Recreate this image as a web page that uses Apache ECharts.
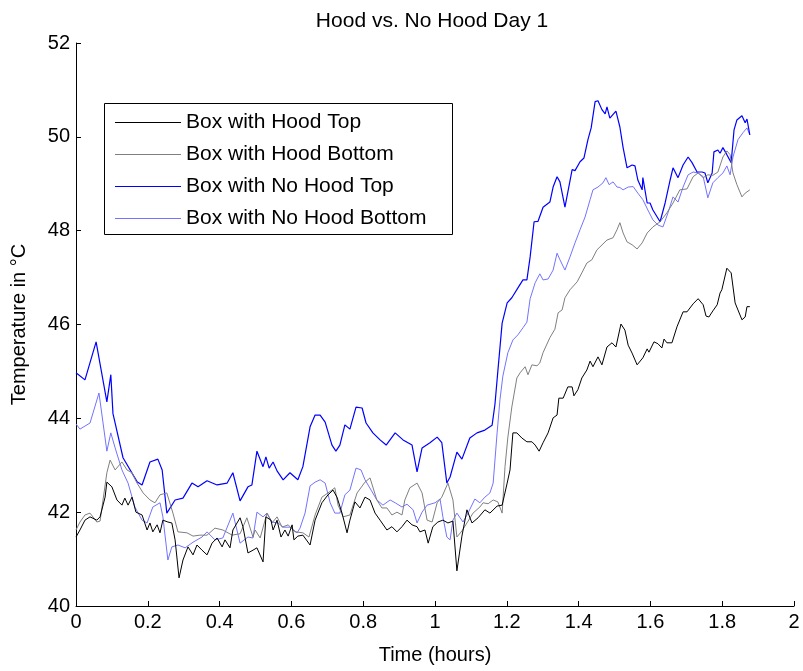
<!DOCTYPE html>
<html>
<head>
<meta charset="utf-8">
<title>Hood vs. No Hood Day 1</title>
<script src="https://cdn.jsdelivr.net/npm/echarts@6/dist/echarts.min.js"></script>
<style>
  html, body { margin: 0; padding: 0; background: #fff; }
  #chart { width: 803px; height: 671px; }
</style>
</head>
<body>
<div id="chart"></div>
<script>
// Temperature logs, time in hours, temperature in °C
const seriesNames = ['Box with Hood Top', 'Box with Hood Bottom', 'Box with No Hood Top', 'Box with No Hood Bottom'];
const xTicks = [0, 0.2, 0.4, 0.6, 0.8, 1, 1.2, 1.4, 1.6, 1.8, 2];
const yTicks = [40, 42, 44, 46, 48, 50, 52];

const hoodTopT = [0,0.011,0.025,0.039,0.058,0.067,0.081,0.086,0.100,0.114,0.128,0.136,0.145,0.156,0.167,0.184,0.198,0.206,0.214,0.226,0.234,0.242,0.256,0.267,0.276,0.287,0.298,0.312,0.326,0.337,0.351,0.365,0.379,0.393,0.407,0.415,0.429,0.437,0.457,0.465,0.479,0.493,0.504,0.521,0.529,0.543,0.549,0.560,0.571,0.582,0.591,0.602,0.607,0.618,0.632,0.652,0.666,0.685,0.702,0.716,0.727,0.741,0.755,0.763,0.777,0.791,0.805,0.819,0.833,0.847,0.866,0.880,0.894,0.908,0.922,0.936,0.950,0.958,0.972,0.981,0.994,1.008,1.022,1.036,1.050,1.061,1.075,1.089,1.103,1.120,1.139,1.153,1.173,1.187,1.201,1.209,1.217,1.228,1.242,1.256,1.270,1.279,1.290,1.301,1.315,1.329,1.340,1.345,1.357,1.370,1.382,1.387,1.398,1.409,1.423,1.432,1.440,1.454,1.465,1.479,1.493,1.504,1.518,1.529,1.538,1.549,1.554,1.563,1.568,1.579,1.591,1.596,1.610,1.621,1.632,1.638,1.646,1.660,1.674,1.691,1.702,1.719,1.733,1.747,1.755,1.763,1.774,1.786,1.794,1.799,1.813,1.825,1.836,1.855,1.864,1.869,1.877];
const hoodTopV = [41.47,41.62,41.83,41.90,41.83,41.90,42.32,42.64,42.54,42.26,42.15,42.30,42.15,42.32,42.00,41.94,41.62,41.77,41.58,41.73,41.56,41.83,41.79,41.77,41.41,40.60,40.98,41.26,41.09,41.30,41.19,41.09,41.34,41.45,41.26,41.41,41.24,41.62,41.88,41.69,41.13,41.19,41.24,40.94,41.90,41.83,41.62,41.83,41.47,41.62,41.49,41.73,41.41,41.49,41.51,41.30,41.83,42.20,42.37,42.47,42.32,41.98,41.56,41.83,42.22,42.09,42.32,42.26,41.98,41.83,41.62,41.69,41.58,41.69,41.83,41.73,41.69,41.58,41.62,41.34,41.69,41.79,41.83,41.77,41.81,40.75,41.49,42.05,41.77,41.88,42.05,41.98,42.13,42.15,42.62,42.90,43.69,43.69,43.58,43.50,43.50,43.43,43.30,43.48,43.69,44.01,44.07,44.43,44.43,44.67,44.67,44.48,44.61,44.86,45.03,45.22,45.10,45.31,45.14,45.52,45.61,45.52,46.01,45.88,45.56,45.39,45.41,45.14,45.10,45.29,45.48,45.41,45.63,45.59,45.50,45.69,45.61,45.61,45.95,46.27,46.27,46.44,46.55,46.42,46.18,46.16,46.29,46.42,46.67,46.74,47.20,47.10,46.46,46.10,46.16,46.38,46.38];

const hoodBottomT = [0,0.011,0.025,0.039,0.058,0.067,0.086,0.095,0.109,0.128,0.142,0.156,0.170,0.187,0.206,0.220,0.234,0.253,0.270,0.284,0.309,0.326,0.345,0.365,0.387,0.409,0.435,0.457,0.476,0.493,0.499,0.513,0.532,0.546,0.560,0.574,0.591,0.610,0.632,0.649,0.666,0.685,0.702,0.721,0.730,0.744,0.763,0.783,0.805,0.819,0.838,0.852,0.866,0.880,0.894,0.908,0.916,0.930,0.950,0.964,0.978,0.992,1.006,1.019,1.036,1.050,1.061,1.075,1.089,1.106,1.125,1.134,1.148,1.162,1.175,1.187,1.195,1.203,1.214,1.228,1.237,1.251,1.259,1.270,1.284,1.292,1.301,1.320,1.334,1.343,1.354,1.362,1.376,1.396,1.409,1.423,1.437,1.451,1.479,1.496,1.507,1.515,1.524,1.535,1.549,1.563,1.577,1.591,1.607,1.627,1.646,1.663,1.682,1.702,1.719,1.733,1.747,1.760,1.774,1.788,1.802,1.813,1.822,1.830,1.841,1.855,1.864,1.877];
const hoodBottomV = [41.62,41.79,41.94,41.98,41.79,41.81,42.84,43.11,42.90,43.07,42.90,42.84,42.62,42.41,42.26,42.20,42.37,42.41,41.98,41.58,41.56,41.49,41.51,41.51,41.66,41.62,41.51,41.54,41.88,41.47,41.62,41.45,41.98,41.77,41.90,41.68,41.73,41.58,41.56,41.47,41.94,42.32,42.41,42.52,42.15,41.90,41.94,42.41,42.64,42.73,42.26,42.09,42.09,41.94,42.00,41.94,42.26,42.52,42.62,42.41,41.83,41.79,42.20,42.32,42.62,42.26,41.47,41.60,41.77,41.98,42.11,42.20,42.18,42.26,42.22,41.98,42.97,43.60,44.24,44.86,44.97,45.10,44.93,45.14,45.12,45.18,45.40,45.72,45.90,46.25,46.31,46.57,46.74,46.91,47.10,47.31,47.38,47.59,47.80,47.85,48.02,48.17,47.95,47.76,47.70,47.61,47.74,47.95,48.08,48.19,48.38,48.59,48.87,48.89,49.15,49.23,49.13,49.19,49.18,49.25,49.57,49.70,49.62,49.23,48.98,48.72,48.80,48.87];

const noHoodTopT = [0,0.025,0.056,0.086,0.097,0.103,0.131,0.170,0.184,0.206,0.228,0.240,0.253,0.276,0.298,0.323,0.340,0.365,0.393,0.421,0.437,0.457,0.479,0.490,0.504,0.521,0.529,0.538,0.549,0.560,0.577,0.596,0.618,0.632,0.652,0.666,0.680,0.694,0.713,0.724,0.735,0.749,0.763,0.780,0.797,0.808,0.827,0.847,0.864,0.889,0.911,0.936,0.950,0.964,0.986,1.006,1.019,1.033,1.042,1.061,1.075,1.097,1.117,1.139,1.159,1.167,1.175,1.187,1.201,1.214,1.231,1.245,1.256,1.265,1.276,1.287,1.301,1.320,1.329,1.340,1.348,1.362,1.382,1.390,1.404,1.415,1.426,1.435,1.446,1.454,1.465,1.474,1.479,1.487,1.504,1.515,1.524,1.535,1.549,1.557,1.565,1.577,1.579,1.591,1.599,1.607,1.627,1.641,1.655,1.663,1.677,1.691,1.705,1.716,1.730,1.744,1.752,1.760,1.772,1.777,1.788,1.794,1.802,1.813,1.825,1.833,1.841,1.855,1.864,1.869,1.877];
const noHoodTopV = [44.97,44.82,45.63,44.35,44.93,44.10,43.16,42.65,42.58,43.07,43.13,42.90,41.98,42.26,42.30,42.62,42.54,42.67,42.58,42.62,42.84,42.24,42.54,42.58,43.30,42.97,43.18,42.94,43.07,42.88,42.69,42.84,42.69,42.97,43.82,44.07,44.07,43.92,43.43,43.30,43.43,43.86,43.77,44.24,44.22,43.90,43.69,43.54,43.43,43.69,43.54,43.43,42.86,43.37,43.48,43.60,43.48,42.62,42.75,43.28,43.13,43.58,43.69,43.75,43.85,44.30,45.00,46.03,46.46,46.57,46.78,46.95,46.95,47.44,48.19,48.20,48.50,48.61,48.93,49.15,49.04,48.50,49.30,49.28,49.47,49.55,49.94,50.19,50.75,50.77,50.58,50.49,50.64,50.40,50.55,50.21,49.77,49.34,49.40,49.38,49.08,48.87,49.13,48.59,48.59,48.44,48.19,48.59,49.08,49.34,49.13,49.40,49.57,49.45,49.25,49.25,49.23,49.02,49.23,49.68,49.72,49.65,49.77,49.62,49.45,50.15,50.36,50.45,50.30,50.38,50.04];

const noHoodBottomT = [0,0.011,0.039,0.064,0.086,0.097,0.109,0.128,0.145,0.164,0.184,0.198,0.214,0.234,0.242,0.256,0.267,0.284,0.304,0.326,0.351,0.365,0.387,0.409,0.437,0.457,0.479,0.493,0.504,0.521,0.532,0.546,0.563,0.577,0.596,0.616,0.624,0.638,0.652,0.666,0.680,0.694,0.708,0.721,0.735,0.749,0.763,0.780,0.794,0.805,0.822,0.838,0.855,0.875,0.889,0.908,0.922,0.939,0.950,0.964,0.978,1.000,1.014,1.022,1.033,1.042,1.050,1.061,1.078,1.092,1.111,1.125,1.139,1.153,1.162,1.173,1.181,1.189,1.203,1.217,1.231,1.245,1.256,1.265,1.279,1.292,1.301,1.315,1.329,1.340,1.348,1.362,1.376,1.390,1.404,1.418,1.432,1.440,1.454,1.468,1.476,1.485,1.496,1.507,1.515,1.524,1.538,1.552,1.565,1.579,1.593,1.607,1.621,1.635,1.649,1.663,1.677,1.691,1.705,1.719,1.733,1.747,1.760,1.774,1.788,1.802,1.813,1.822,1.830,1.844,1.858,1.869,1.877];
const noHoodBottomV = [43.88,43.77,43.90,44.54,43.30,43.69,43.37,42.90,42.62,42.11,41.83,41.77,42.11,42.20,41.90,40.98,41.26,41.30,41.24,41.36,41.47,41.58,41.41,41.45,41.98,41.34,41.47,41.45,42.00,41.90,41.98,41.79,41.77,41.68,41.68,41.56,41.66,41.98,42.56,42.64,42.69,42.62,42.20,41.98,41.98,42.37,42.47,42.94,42.90,42.69,42.47,42.26,42.15,42.26,42.20,42.11,42.17,42.05,41.77,42.00,42.15,42.20,42.28,41.90,41.47,41.41,41.83,41.98,41.79,41.98,42.28,42.20,42.32,42.41,42.62,43.69,44.40,44.90,45.40,45.67,45.78,45.93,46.05,46.55,46.89,47.08,46.95,46.97,47.16,47.52,47.38,47.16,47.44,47.74,48.02,48.29,48.66,48.87,48.93,49.02,49.13,48.98,49.04,48.93,48.92,48.87,48.93,48.94,48.80,48.66,48.44,48.23,48.12,48.08,48.38,48.72,48.61,48.93,49.19,49.25,49.23,49.15,48.70,49.02,49.13,49.23,49.38,49.19,49.57,49.94,50.09,50.19,50.04];

function pairs(ts, vs) {
  return ts.map((t, i) => [t, vs[i]]);
}

const FONT = 'Liberation Sans, Arial, Helvetica, sans-serif';

const chart = echarts.init(document.getElementById('chart'), null, { renderer: 'canvas' });

const lineColors = ['#000000', '#7f7f7f', '#0000ff', '#7373ff'];
const lineWidths = [1, 1, 1.2, 1];
const dataSets = [
  pairs(hoodTopT, hoodTopV),
  pairs(hoodBottomT, hoodBottomV),
  pairs(noHoodTopT, noHoodTopV),
  pairs(noHoodBottomT, noHoodBottomV)
];

chart.setOption({
  animation: false,
  backgroundColor: '#ffffff',
  textStyle: { fontFamily: FONT, color: '#000' },
  title: {
    text: 'Hood vs. No Hood Day 1',
    left: 427,
    textAlign: 'center',
    top: 6,
    textStyle: { fontFamily: FONT, fontSize: 21, fontWeight: 'normal', color: '#000' }
  },
  grid: { left: 76, right: 9, top: 43, bottom: 65, outerBoundsMode: 'none' },
  legend: {
    data: seriesNames,
    orient: 'vertical',
    left: 102,
    top: 101,
    padding: [11, 14, 8, 13],
    icon: 'rect',
    itemWidth: 66,
    itemHeight: 1,
    itemGap: 11,
    selectedMode: false,
    textStyle: { fontFamily: FONT, fontSize: 21, color: '#000', lineHeight: 20 }
  },
  graphic: [{
    type: 'rect',
    left: 102,
    top: 101,
    shape: { width: 348, height: 131 },
    style: { fill: null, stroke: '#000', lineWidth: 1 },
    z: 100
  }],
  xAxis: {
    type: 'value',
    min: xTicks[0],
    max: xTicks[xTicks.length - 1],
    interval: 0.2,
    name: 'Time (hours)',
    nameLocation: 'middle',
    nameGap: 39,
    nameTextStyle: { fontFamily: FONT, fontSize: 20, color: '#000' },
    axisLine: { show: true, onZero: false, lineStyle: { color: '#000', width: 1 } },
    axisTick: { show: true, inside: true, length: 5, lineStyle: { color: '#000' } },
    axisLabel: { fontFamily: FONT, fontSize: 20, color: '#000', margin: 6 },
    splitLine: { show: false }
  },
  yAxis: {
    type: 'value',
    min: yTicks[0],
    max: yTicks[yTicks.length - 1],
    interval: 2,
    name: 'Temperature in °C',
    nameLocation: 'middle',
    nameGap: 47,
    nameTextStyle: { fontFamily: FONT, fontSize: 20, color: '#000' },
    axisLine: { show: true, lineStyle: { color: '#000', width: 1 } },
    axisTick: { show: true, inside: true, length: 5, lineStyle: { color: '#000' } },
    axisLabel: { fontFamily: FONT, fontSize: 20, color: '#000', margin: 6 },
    splitLine: { show: false }
  },
  series: seriesNames.map((name, i) => ({
    name: name,
    type: 'line',
    data: dataSets[i],
    symbol: 'none',
    showSymbol: false,
    smooth: false,
    color: lineColors[i],
    lineStyle: { color: lineColors[i], width: lineWidths[i] },
    z: 4 - i
  }))
});
</script>
</body>
</html>
